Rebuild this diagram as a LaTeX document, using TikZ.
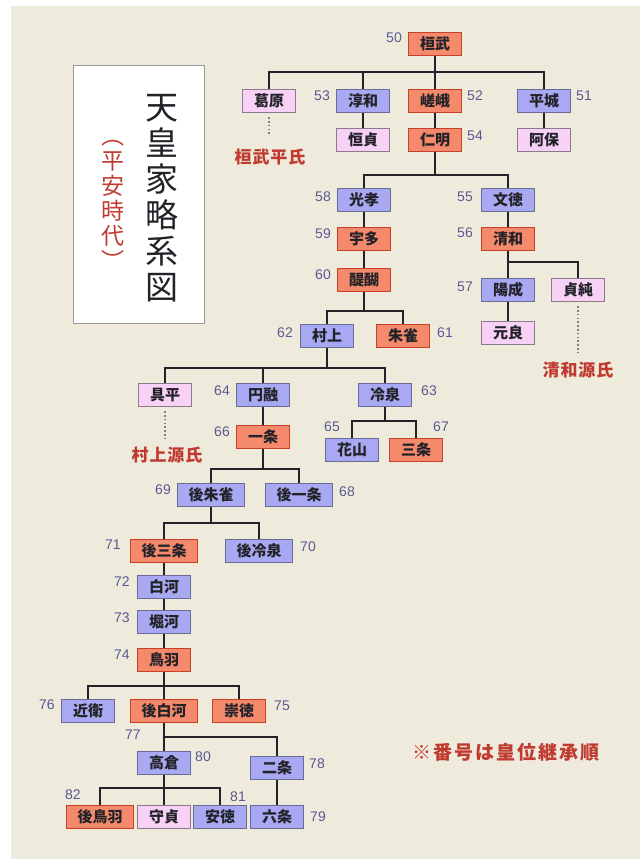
\documentclass[tikz,border=0pt]{standalone}
\usepackage{fontspec}
\setmainfont{Liberation Sans}
\newfontfamily\cjk{Noto Sans CJK JP}
\newfontfamily\cjksp[LetterSpace=5]{Noto Sans CJK JP}
\newfontfamily\cjknote[LetterSpace=10]{Noto Sans CJK JP}
\definecolor{bg}{HTML}{EEEBDD}
\definecolor{ofill}{HTML}{F4896B}
\definecolor{odraw}{HTML}{C8402A}
\definecolor{bfill}{HTML}{A9A9F3}
\definecolor{bdraw}{HTML}{6A6A96}
\definecolor{pfill}{HTML}{F8D2F6}
\definecolor{pdraw}{HTML}{8A7A8A}
\definecolor{numc}{HTML}{5A5A92}
\definecolor{redt}{HTML}{C03A30}
\definecolor{ink}{HTML}{222228}
\tikzset{
 emp/.style={draw, line width=1.2pt, minimum height=23pt, minimum width=53pt, inner sep=0pt, font=\cjk\bfseries\fontsize{15}{15}\selectfont, text=ink},
 ob/.style={emp, fill=ofill, draw=odraw},
 bb/.style={emp, fill=bfill, draw=bdraw},
 pb/.style={emp, fill=pfill, draw=pdraw},
 wide/.style={minimum width=67pt},
 num/.style={font=\fontsize{14}{14}\selectfont, text=numc, inner sep=0pt},
 link/.style={line width=1.3pt, draw=ink},
 dots/.style={line width=1.6pt, draw=gray, dash pattern=on 1.6pt off 2.2pt},
 clan/.style={font=\cjksp\bfseries\fontsize{17}{17}\selectfont, text=redt, inner sep=0pt},
}
\begin{document}
\begin{tikzpicture}[x=1pt,y=-1pt]
\fill[white] (0,0) rectangle (640,859);
\fill[bg] (11,6) rectangle (640,859);
\useasboundingbox (0,0) rectangle (640,859);

% title box
\node[draw=gray!80, fill=white, line width=0.8pt, minimum width=131pt, minimum height=258pt, inner sep=0pt] (titlebox) at (138.5,194) {};
\node[font=\cjk\fontsize{33}{36}\selectfont, align=center, text=ink] (title) at (162,198) {天\\皇\\家\\略\\系\\図};
\node[font=\cjk\fontsize{23}{25}\selectfont, align=center, text=redt] (era) at (113,205) {︵\\平\\安\\時\\代\\︶};

% nodes
\node[ob] (kanmu) at (435,44) {桓武};
\node[pb] (kuzuhara) at (269,101) {葛原};
\node[bb] (junna) at (363,101) {淳和};
\node[ob] (saga) at (435,101) {嵯峨};
\node[bb] (heizei) at (544,101) {平城};
\node[pb] (tsunesada) at (363,140) {恒貞};
\node[ob] (ninmyo) at (435,140) {仁明};
\node[pb] (abo) at (544,140) {阿保};
\node[bb] (koko) at (364,200) {光孝};
\node[bb] (montoku) at (508,200) {文徳};
\node[ob] (uda) at (364,239) {宇多};
\node[ob] (seiwa) at (508,239) {清和};
\node[ob] (daigo) at (364,280) {醍醐};
\node[bb] (yozei) at (508,290) {陽成};
\node[pb] (sadazumi) at (578,290) {貞純};
\node[pb] (motoyoshi) at (508,333) {元良};
\node[bb] (murakami) at (327,336) {村上};
\node[ob] (suzaku) at (403,336) {朱雀};
\node[pb] (tomohira) at (165,395) {具平};
\node[bb] (enyu) at (263,395) {円融};
\node[bb] (reizei) at (385,395) {冷泉};
\node[ob] (ichijo) at (263,437) {一条};
\node[bb] (kazan) at (352,450) {花山};
\node[ob] (sanjo) at (416,450) {三条};
\node[bb,wide] (gosuzaku) at (211,495) {後朱雀};
\node[bb,wide] (goichijo) at (299,495) {後一条};
\node[ob,wide] (gosanjo) at (164,551) {後三条};
\node[bb,wide] (goreizei) at (259,551) {後冷泉};
\node[bb] (shirakawa) at (164,587) {白河};
\node[bb] (horikawa) at (164,622) {堀河};
\node[ob] (toba) at (164,660) {鳥羽};
\node[bb] (konoe) at (88,711) {近衛};
\node[ob,wide] (goshirakawa) at (164,711) {後白河};
\node[ob] (sutoku) at (239,711) {崇徳};
\node[bb] (takakura) at (164,763) {高倉};
\node[bb] (nijo) at (277,768) {二条};
\node[ob,wide] (gotoba) at (100,817) {後鳥羽};
\node[pb] (morisada) at (164,817) {守貞};
\node[bb] (antoku) at (220,817) {安徳};
\node[bb] (rokujo) at (277,817) {六条};

% numbers
\node[num] (n50) at (394,38) {50};
\node[num] (n53) at (322,96) {53};
\node[num] (n52) at (475,96) {52};
\node[num] (n51) at (584,96) {51};
\node[num] (n54) at (475,136) {54};
\node[num] (n58) at (323,197) {58};
\node[num] (n55) at (465,197) {55};
\node[num] (n59) at (323,234) {59};
\node[num] (n56) at (465,233) {56};
\node[num] (n60) at (323,275) {60};
\node[num] (n57) at (465,287) {57};
\node[num] (n62) at (285,333) {62};
\node[num] (n61) at (445,333) {61};
\node[num] (n64) at (222,391) {64};
\node[num] (n63) at (429,391) {63};
\node[num] (n66) at (222,432) {66};
\node[num] (n65) at (332,427) {65};
\node[num] (n67) at (441,427) {67};
\node[num] (n69) at (163,490) {69};
\node[num] (n68) at (347,492) {68};
\node[num] (n71) at (113,545) {71};
\node[num] (n70) at (308,547) {70};
\node[num] (n72) at (122,582) {72};
\node[num] (n73) at (122,618) {73};
\node[num] (n74) at (122,655) {74};
\node[num] (n76) at (47,705) {76};
\node[num] (n75) at (282,706) {75};
\node[num] (n77) at (133,735) {77};
\node[num] (n80) at (203,757) {80};
\node[num] (n78) at (317,764) {78};
\node[num] (n82) at (73,795) {82};
\node[num] (n81) at (238,797) {81};
\node[num] (n79) at (318,817) {79};

% junctions
\coordinate (j50) at (435,72);
\coordinate (j54) at (435,175);
\coordinate (j56) at (508,262);
\coordinate (j60) at (364,311);
\coordinate (j62) at (327,368);
\coordinate (j63) at (385,421);
\coordinate (j66) at (263,469);
\coordinate (j69) at (211,523);
\coordinate (j74) at (164,686);
\coordinate (j77) at (164,737);
\coordinate (j80) at (164,788);

% links
\draw[link] (kanmu.south) -- (j50);
\draw[link] (j50) -| (kuzuhara.north);
\draw[link] (j50) -| (junna.north);
\draw[link] (j50) -- (saga.north);
\draw[link] (j50) -| (heizei.north);
\draw[link] (junna) -- (tsunesada);
\draw[link] (saga) -- (ninmyo);
\draw[link] (heizei) -- (abo);
\draw[link] (ninmyo.south) -- (j54);
\draw[link] (j54) -| (koko.north);
\draw[link] (j54) -| (montoku.north);
\draw[link] (koko) -- (uda);
\draw[link] (uda) -- (daigo);
\draw[link] (montoku) -- (seiwa);
\draw[link] (seiwa.south) -- (j56);
\draw[link] (j56) -- (yozei.north);
\draw[link] (j56) -| (sadazumi.north);
\draw[link] (yozei) -- (motoyoshi);
\draw[link] (daigo.south) -- (j60);
\draw[link] (j60) -| (murakami.north);
\draw[link] (j60) -| (suzaku.north);
\draw[link] (murakami.south) -- (j62);
\draw[link] (j62) -| (tomohira.north);
\draw[link] (j62) -| (enyu.north);
\draw[link] (j62) -| (reizei.north);
\draw[link] (enyu) -- (ichijo);
\draw[link] (reizei.south) -- (j63);
\draw[link] (j63) -| (kazan.north);
\draw[link] (j63) -| (sanjo.north);
\draw[link] (ichijo.south) -- (j66);
\draw[link] (j66) -| (gosuzaku.north);
\draw[link] (j66) -| (goichijo.north);
\draw[link] (gosuzaku.south) -- (j69);
\draw[link] (j69) -| (gosanjo.north);
\draw[link] (j69) -| (goreizei.north);
\draw[link] (gosanjo) -- (shirakawa);
\draw[link] (shirakawa) -- (horikawa);
\draw[link] (horikawa) -- (toba);
\draw[link] (toba.south) -- (j74);
\draw[link] (j74) -| (konoe.north);
\draw[link] (j74) -- (goshirakawa.north);
\draw[link] (j74) -| (sutoku.north);
\draw[link] (goshirakawa.south) -- (j77);
\draw[link] (j77) -- (takakura.north);
\draw[link] (j77) -| (nijo.north);
\draw[link] (nijo) -- (rokujo);
\draw[link] (takakura.south) -- (j80);
\draw[link] (j80) -| (gotoba.north);
\draw[link] (j80) -- (morisada.north);
\draw[link] (j80) -| (antoku.north);

% collateral lines
\coordinate (e1) at (269,136);
\coordinate (e2) at (578,355);
\coordinate (e3) at (165,441);
\draw[dots] (kuzuhara.south) ++(0,4) -- (e1);
\draw[dots] (sadazumi.south) ++(0,4) -- (e2);
\draw[dots] (tomohira.south) ++(0,4) -- (e3);
\node[clan] (heishi) at (270,157) {桓武平氏};
\node[clan] (genji1) at (578,370) {清和源氏};
\node[clan] (genji2) at (167,455) {村上源氏};

\node[font=\cjknote\bfseries\fontsize{19}{19}\selectfont, text=redt, inner sep=0pt] (note) at (506,752) {※番号は皇位継承順};
\end{tikzpicture}
\end{document}
